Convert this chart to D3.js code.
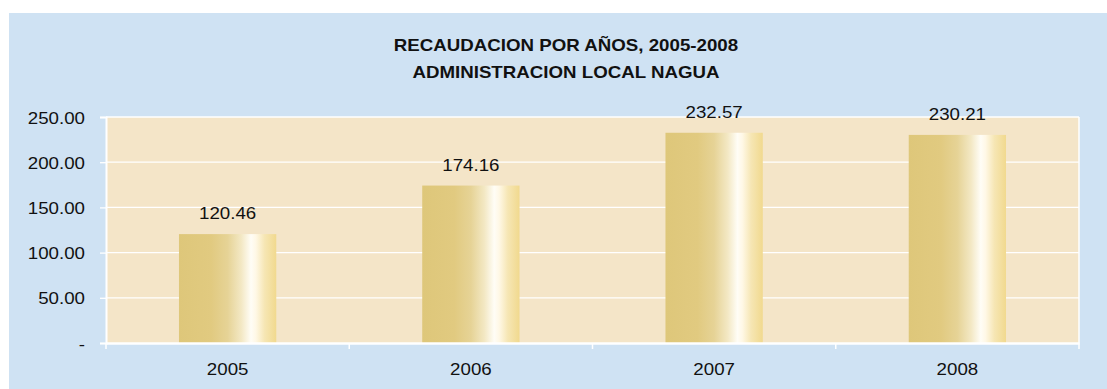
<!DOCTYPE html>
<html>
<head>
<meta charset="utf-8">
<script src="https://cdn.jsdelivr.net/npm/d3@7"></script>
<style>
  html, body { margin: 0; padding: 0; background: #ffffff; }
  svg { display: block; }
  text { font-family: "Liberation Sans", Arial, sans-serif; fill: #111; }
</style>
</head>
<body>
<svg id="chart" width="1107" height="389"></svg>
<script>
// Recaudación anual, Administración Local Nagua
const years = ["2005", "2006", "2007", "2008"];
const amounts = [120.46, 174.16, 232.57, 230.21];
const yTicks = [0, 50, 100, 150, 200, 250];
const titleLines = ["RECAUDACION POR AÑOS, 2005-2008", "ADMINISTRACION LOCAL NAGUA"];

const W = 1107, H = 389;
const plot = { left: 106, right: 1079, top: 117, bottom: 343 };
const stretch = 1.1; // horizontal widening of the text glyphs

const svg = d3.select("#chart");

// Outer chart area
svg.append("rect")
  .attr("x", 9).attr("y", 13)
  .attr("width", W - 9).attr("height", H - 13)
  .attr("fill", "#cfe2f3");

// Bar gradient: gold with a bright vertical highlight
const defs = svg.append("defs");
const grad = defs.append("linearGradient")
  .attr("id", "barGrad")
  .attr("x1", "0%").attr("x2", "100%").attr("y1", "0%").attr("y2", "0%");
[
  [0, "#dec77a"], [0.33, "#e1ca80"], [0.5, "#e6d396"], [0.64, "#f3e8c4"],
  [0.74, "#fffdf6"], [0.79, "#fff8e6"], [0.88, "#f6e6b4"], [1, "#f1d98e"]
].forEach(([o, c]) => grad.append("stop").attr("offset", o).attr("stop-color", c));

const x = d3.scaleBand()
  .domain(years)
  .range([plot.left, plot.right])
  .paddingInner(0.6)
  .paddingOuter(0.3);

const y = d3.scaleLinear()
  .domain([0, 250])
  .range([plot.bottom, plot.top]);

// Plot area background
svg.append("rect")
  .attr("x", plot.left).attr("y", plot.top)
  .attr("width", plot.right - plot.left).attr("height", plot.bottom - plot.top)
  .attr("fill", "#f4e5c8");

// Gridlines
svg.append("g")
  .selectAll("line")
  .data(yTicks.filter(d => d > 0))
  .join("line")
  .attr("x1", plot.left).attr("x2", plot.right)
  .attr("y1", d => y(d)).attr("y2", d => y(d))
  .attr("stroke", "#ffffff").attr("stroke-width", 1.3);

// Plot area border (right side)
svg.append("line")
  .attr("x1", plot.right).attr("x2", plot.right)
  .attr("y1", plot.top).attr("y2", plot.bottom)
  .attr("stroke", "#ffffff").attr("stroke-width", 1.5);

// Bars
svg.append("g")
  .selectAll("rect")
  .data(years.map((yr, i) => ({ yr, v: amounts[i] })))
  .join("rect")
  .attr("x", d => x(d.yr))
  .attr("y", d => y(d.v))
  .attr("width", x.bandwidth())
  .attr("height", d => y(0) - y(d.v))
  .attr("fill", "url(#barGrad)");

// Y axis
const fmt = d => d === 0 ? "-" : d3.format(".2f")(d);
const yAxis = svg.append("g")
  .attr("transform", `translate(${plot.left},0)`)
  .call(d3.axisLeft(y).tickValues(yTicks).tickFormat(fmt).tickSize(6).tickPadding(15));
yAxis.select(".domain").attr("stroke", "#ffffff").attr("stroke-width", 2);
yAxis.selectAll(".tick line").attr("stroke", "#ffffff").attr("stroke-width", 1.3);
yAxis.selectAll(".tick text")
  .attr("font-size", 17).attr("fill", "#111")
  .attr("dy", "0.36em");

// X axis with ticks between categories
const xAxis = svg.append("g")
  .attr("transform", `translate(0,${plot.bottom})`)
  .call(d3.axisBottom(x).tickSize(0).tickPadding(20));
xAxis.select(".domain").attr("stroke", "#ffffff").attr("stroke-width", 2.5);
xAxis.selectAll(".tick text").attr("font-size", 17).attr("fill", "#111");
const boundaries = d3.range(years.length + 1).map(i => plot.left + i * (plot.right - plot.left) / years.length);
xAxis.selectAll(".sep")
  .data(boundaries)
  .join("line")
  .attr("class", "sep")
  .attr("x1", d => d).attr("x2", d => d)
  .attr("y1", 0).attr("y2", 6)
  .attr("stroke", "#ffffff").attr("stroke-width", 1.5);

// Value labels
svg.append("g")
  .selectAll("text")
  .data(years.map((yr, i) => ({ yr, v: amounts[i] })))
  .join("text")
  .attr("x", d => x(d.yr) + x.bandwidth() / 2)
  .attr("y", d => y(d.v) - 15)
  .attr("text-anchor", "middle")
  .attr("font-size", 17)
  .text(d => d3.format(".2f")(d.v));

// Title
svg.append("g")
  .selectAll("text")
  .data(titleLines)
  .join("text")
  .attr("x", 566)
  .attr("y", (d, i) => 51 + i * 27)
  .attr("text-anchor", "middle")
  .attr("font-size", 17)
  .attr("font-weight", "bold")
  .text(d => d);

// Widen glyphs slightly
svg.selectAll("text").each(function () {
  const len = this.getComputedTextLength();
  if (len > 0) {
    d3.select(this).attr("textLength", len * stretch).attr("lengthAdjust", "spacingAndGlyphs");
  }
});
</script>
</body>
</html>
